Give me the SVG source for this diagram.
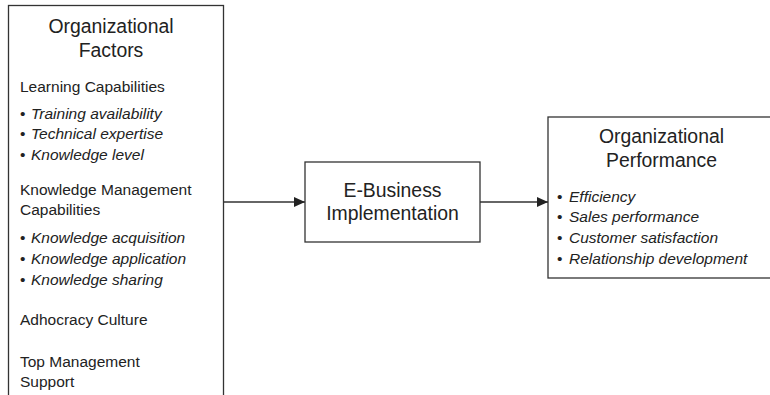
<svg xmlns="http://www.w3.org/2000/svg" width="770" height="395" viewBox="0 0 770 395">
<style>
.box{fill:#fff;stroke:#333;stroke-width:1.3}
.t{font-family:"Liberation Sans",Arial,sans-serif;fill:#222}
.title{font-size:19.4px;text-anchor:middle}
.item{font-size:15.5px}
.it{font-style:italic}
.conn{stroke:#333;stroke-width:1.3;fill:none}
</style>
<defs>
<marker id="arr" markerWidth="12" markerHeight="10" refX="11" refY="5" orient="auto" markerUnits="userSpaceOnUse">
<path d="M0,0 L11,5 L0,10 Z" fill="#222"/>
</marker>
</defs>
<rect width="770" height="395" fill="#fff"/>
<g id="connectors">
<line class="conn" x1="224" y1="202" x2="305" y2="202" marker-end="url(#arr)"/>
<line class="conn" x1="480" y1="202" x2="548" y2="202" marker-end="url(#arr)"/>
</g>
<g id="org-factors">
<rect class="box" x="8.5" y="5.5" width="215" height="400"/>
<text class="t title" x="111" y="33">Organizational</text>
<text class="t title" x="111" y="57">Factors</text>
<text class="t item" x="20" y="92">Learning Capabilities</text>
<text class="t item" x="20" y="119">•</text><text class="t item it" x="31" y="119">Training availability</text>
<text class="t item" x="20" y="139">•</text><text class="t item it" x="31" y="139">Technical expertise</text>
<text class="t item" x="20" y="160">•</text><text class="t item it" x="31" y="160">Knowledge level</text>
<text class="t item" x="20" y="195">Knowledge Management</text>
<text class="t item" x="20" y="215">Capabilities</text>
<text class="t item" x="20" y="243">•</text><text class="t item it" x="31" y="243">Knowledge acquisition</text>
<text class="t item" x="20" y="264">•</text><text class="t item it" x="31" y="264">Knowledge application</text>
<text class="t item" x="20" y="285">•</text><text class="t item it" x="31" y="285">Knowledge sharing</text>
<text class="t item" x="20" y="325">Adhocracy Culture</text>
<text class="t item" x="20" y="367">Top Management</text>
<text class="t item" x="20" y="387">Support</text>
</g>
<g id="ebusiness">
<rect class="box" x="305" y="162" width="175" height="80"/>
<text class="t title" x="392.5" y="197">E-Business</text>
<text class="t title" x="392.5" y="220">Implementation</text>
</g>
<g id="org-performance">
<rect class="box" x="548" y="117" width="230" height="161"/>
<text class="t title" x="661.5" y="143">Organizational</text>
<text class="t title" x="661.5" y="167">Performance</text>
<text class="t item" x="557" y="202">•</text><text class="t item it" x="569" y="202">Efficiency</text>
<text class="t item" x="557" y="222">•</text><text class="t item it" x="569" y="222">Sales performance</text>
<text class="t item" x="557" y="243">•</text><text class="t item it" x="569" y="243">Customer satisfaction</text>
<text class="t item" x="557" y="264">•</text><text class="t item it" x="569" y="264">Relationship development</text>
</g>
</svg>
